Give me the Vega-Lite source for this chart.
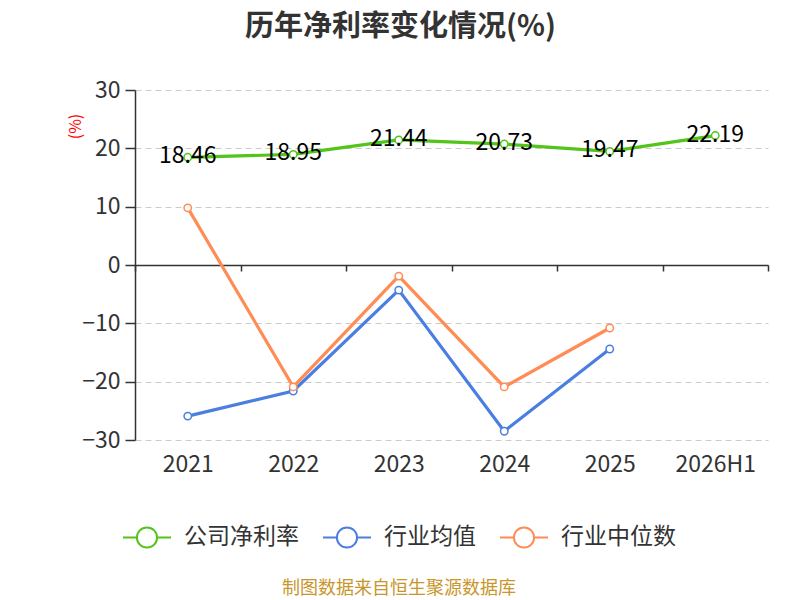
{
  "$schema": "https://vega.github.io/schema/vega-lite/v6.json",
  "width": 633,
  "height": 350,
  "autosize": {"type": "none"},
  "padding": {"left": 135, "top": 90, "right": 32, "bottom": 160},
  "background": "white",
  "title": {"text": "历年净利率变化情况(%)", "fontSize": 29, "fontWeight": "bold", "color": "#333333", "dx": -51, "offset": 37, "anchor": "middle"},
  "data": {"values": [
    {"year": "2021", "series": "公司净利率", "value": 18.46},
    {"year": "2022", "series": "公司净利率", "value": 18.95},
    {"year": "2023", "series": "公司净利率", "value": 21.44},
    {"year": "2024", "series": "公司净利率", "value": 20.73},
    {"year": "2025", "series": "公司净利率", "value": 19.47},
    {"year": "2026H1", "series": "公司净利率", "value": 22.19},
    {"year": "2021", "series": "行业均值", "value": -25.9},
    {"year": "2022", "series": "行业均值", "value": -21.6},
    {"year": "2023", "series": "行业均值", "value": -4.3},
    {"year": "2024", "series": "行业均值", "value": -28.5},
    {"year": "2025", "series": "行业均值", "value": -14.4},
    {"year": "2021", "series": "行业中位数", "value": 9.8},
    {"year": "2022", "series": "行业中位数", "value": -20.9},
    {"year": "2023", "series": "行业中位数", "value": -1.9},
    {"year": "2024", "series": "行业中位数", "value": -20.9},
    {"year": "2025", "series": "行业中位数", "value": -10.8}
  ]},
  "encoding": {
    "x": {
      "field": "year", "type": "ordinal",
      "scale": {"type": "band", "paddingInner": 0, "paddingOuter": 0},
      "axis": {"title": null, "offset": -175, "domainColor": "#333333", "domainWidth": 1.5, "tickColor": "#333333", "tickWidth": 1.5, "tickBand": "extent", "tickSize": 6, "labelPadding": 182, "labelFontSize": 23, "labelColor": "#333333", "labelAngle": 0, "grid": false}
    },
    "y": {
      "field": "value", "type": "quantitative",
      "scale": {"domain": [-30, 30], "nice": false, "zero": false},
      "axis": {"values": [-30, -20, -10, 0, 10, 20, 30], "title": "(%)", "titleColor": "red", "titleFontSize": 16, "titleFontWeight": "normal", "titleX": -60, "titleY": 36, "titleAlign": "center", "titleBaseline": "middle", "titleAngle": 270, "labelFontSize": 23, "labelColor": "#333333", "labelPadding": 5, "tickSize": 10, "tickColor": "#333333", "tickWidth": 1.5, "domainColor": "#333333", "domainWidth": 1.5, "grid": true, "gridColor": "#cccccc", "gridDash": [6, 4], "gridWidth": 1}
    },
    "color": {
      "field": "series", "type": "nominal",
      "scale": {"domain": ["公司净利率", "行业均值", "行业中位数"], "range": ["#52c41a", "#4a7ee0", "#ff8c55"]},
      "legend": {
        "orient": "none", "legendX": -13, "legendY": 422, "direction": "horizontal",
        "title": "制图数据来自恒生聚源数据库", "titleOrient": "bottom", "titleAnchor": "middle", "titleColor": "#c8962a", "titleFontSize": 18, "titleFontWeight": "normal", "titlePadding": 28, "titleLimit": 1000,
        "labelFontSize": 23, "labelColor": "#333333", "labelOffset": 12, "columnPadding": 20,
        "symbolType": "M-1,0L-0.42,0M0.42,0L1,0M0.42,0A0.42,0.42,0,1,1,-0.42,0A0.42,0.42,0,1,1,0.42,0",
        "symbolSize": 2304, "symbolStrokeWidth": 2, "symbolFillColor": "white",
        "encode": {"symbols": {"update": {"fill": {"value": "white"}}}}
      }
    }
  },
  "layer": [
    {"mark": {"type": "line", "strokeWidth": 3.2}},
    {"mark": {"type": "point", "filled": false, "fill": "white", "fillOpacity": 1, "size": 55, "strokeWidth": 1.5, "opacity": 1}},
    {
      "transform": [{"filter": "datum.series === '公司净利率'"}],
      "mark": {"type": "text", "fontSize": 23, "color": "black", "baseline": "middle", "dy": -1},
      "encoding": {"text": {"field": "value", "type": "quantitative", "format": ".2f"}, "color": {"value": "black"}}
    }
  ],
  "config": {"font": "Noto Sans CJK SC", "view": {"stroke": null}}
}
